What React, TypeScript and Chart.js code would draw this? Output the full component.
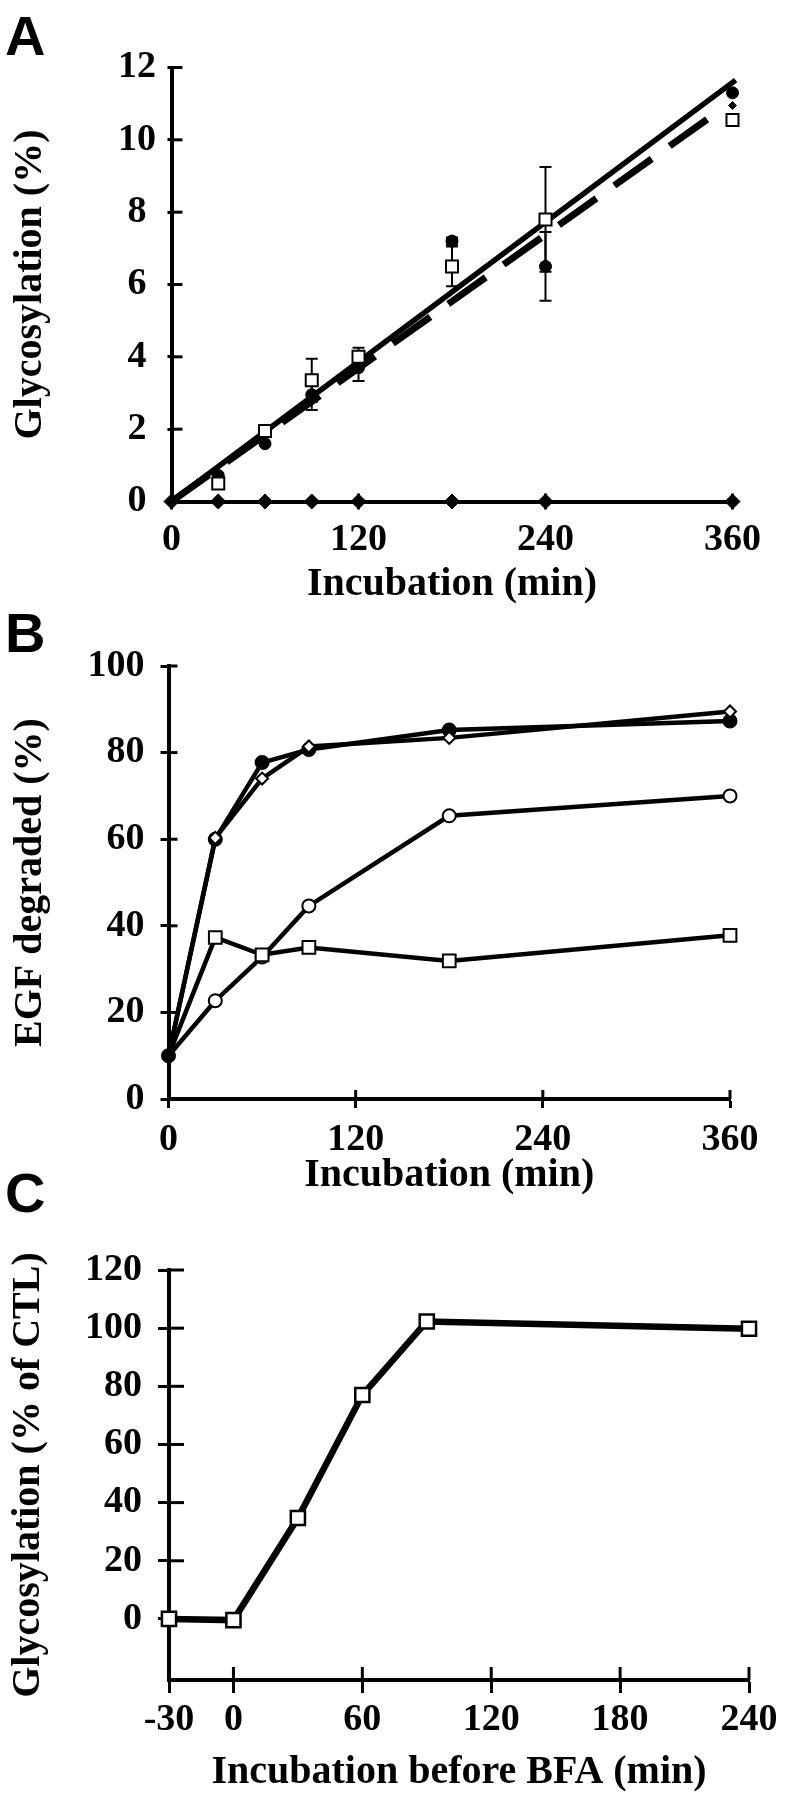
import React, { useEffect, useRef } from 'react';
import { Chart, registerables } from 'chart.js';

Chart.register(...registerables);

const SERIF = '"Liberation Serif", "Times New Roman", Times, serif';
const SANS = '"Liberation Sans", Arial, Helvetica, sans-serif';

// ---------- Panel A ----------
const timeA = [0, 30, 60, 90, 120, 180, 240, 360];
const zeroA = [0, 0, 0, 0, 0, 0, 0, 0];
const timeA2 = [30, 60, 90, 120, 180, 240, 360];
const squaresA = [0.5, 1.95, 3.35, 4.0, 6.5, 7.8, 10.55];
const squaresErrA = [0, 0, 0.6, 0.25, 0.55, 1.45, 0];
const dotsA = [0.72, 1.6, 2.95, 3.7, 7.2, 6.5, 11.3];
const dotsErrA = [0, 0, 0.42, 0.37, 0.1, 0.95, 0];
const smallA = [0.65, 1.7, 3.0, 3.85, 6.6, 6.45, 10.95];
const fitSolidX = [0, 362];
const fitSolidY = [0, 11.65];
const fitDashX = [0, 348];
const fitDashY = [0, 10.7];
const ticksAX = [0, 120, 240, 360];
const ticksAY = [0, 2, 4, 6, 8, 10, 12];

// ---------- Panel B ----------
const timeB = [0, 30, 60, 90, 180, 360];
const filledCircleB = [10, 60, 77.7, 80.7, 85.2, 87.3];
const openDiamondB = [10, 60.3, 74, 81.4, 83.4, 89.5];
const openCircleB = [10, 22.7, 32.8, 44.6, 65.4, 70];
const openSquareB = [10, 37.3, 33.3, 35, 31.9, 37.8];
const ticksBX = [0, 120, 240, 360];
const ticksBY = [0, 20, 40, 60, 80, 100];

// ---------- Panel C ----------
const timeC = [-30, 0, 30, 60, 90, 240];
const glycC = [0, -0.4, 34.7, 77, 102.3, 99.8];
const ticksCX = [-30, 0, 60, 120, 180, 240];
const ticksCY = [0, 20, 40, 60, 80, 100, 120];

const pts = (xs: number[], ys: number[]) => xs.map((x, i) => ({ x, y: ys[i] }));

const decorPlugin = {
  id: 'panelDecor',
  beforeDatasetsDraw(chart: any, _a: any, opts: any) {
    const ctx = chart.ctx;
    const area = chart.chartArea;
    const xs = chart.scales.x;
    const ys = chart.scales.y;
    ctx.save();
    ctx.strokeStyle = '#000';
    ctx.lineWidth = 3;
    ctx.lineCap = 'butt';
    ys.ticks.forEach((t: any) => {
      const py = ys.getPixelForValue(t.value);
      ctx.beginPath();
      ctx.moveTo(area.left, py);
      ctx.lineTo(area.left + opts.innerY, py);
      ctx.stroke();
    });
    xs.ticks.forEach((t: any) => {
      const px = xs.getPixelForValue(t.value);
      ctx.beginPath();
      ctx.moveTo(px, area.bottom);
      ctx.lineTo(px, area.bottom - opts.innerX);
      ctx.stroke();
    });
    ctx.restore();
  },
  afterDraw(chart: any, _a: any, opts: any) {
    const ctx = chart.ctx;
    ctx.save();
    ctx.fillStyle = '#000';
    ctx.font = `bold 56px ${SANS}`;
    ctx.textAlign = 'left';
    ctx.textBaseline = 'alphabetic';
    ctx.fillText(opts.letter, 5, opts.letterY);
    ctx.restore();
  },
};

const errorBarPlugin = {
  id: 'errorBars',
  beforeDatasetsDraw(chart: any) {
    const ctx = chart.ctx;
    const xs = chart.scales.x;
    const ys = chart.scales.y;
    ctx.save();
    ctx.strokeStyle = '#000';
    ctx.lineWidth = 2;
    chart.data.datasets.forEach((ds: any) => {
      if (!ds.errors) return;
      ds.data.forEach((p: any, i: number) => {
        const e = ds.errors[i];
        if (!e) return;
        const px = xs.getPixelForValue(p.x);
        const top = ys.getPixelForValue(p.y + e);
        const bot = ys.getPixelForValue(p.y - e);
        ctx.beginPath();
        ctx.moveTo(px, top);
        ctx.lineTo(px, bot);
        ctx.moveTo(px - 6, top);
        ctx.lineTo(px + 6, top);
        ctx.moveTo(px - 6, bot);
        ctx.lineTo(px + 6, bot);
        ctx.stroke();
      });
    });
    ctx.restore();
  },
};

type AxisSpec = {
  horizontal: boolean;
  min: number;
  max: number;
  tickVals: number[];
  size: number;
  tickLength: number;
  padding: number;
  crossAlign?: string;
  title: string;
  titlePad: number;
};

function axis(a: AxisSpec) {
  return {
    type: 'linear',
    min: a.min,
    max: a.max,
    afterBuildTicks: (s: any) => {
      s.ticks = a.tickVals.map((v) => ({ value: v }));
    },
    afterFit: (s: any) => {
      if (a.horizontal) s.height = a.size;
      else s.width = a.size;
    },
    grid: {
      display: true,
      drawOnChartArea: false,
      drawTicks: true,
      tickLength: a.tickLength,
      tickWidth: 3,
      tickColor: '#000',
      color: '#000',
    },
    border: { display: true, color: '#000', width: 4 },
    ticks: {
      color: '#000',
      font: { family: SERIF, size: 38, weight: 'bold' },
      padding: a.padding,
      autoSkip: false,
      maxRotation: 0,
      minRotation: 0,
      crossAlign: a.crossAlign || 'near',
      callback: (v: any) => String(v),
    },
    title: {
      display: true,
      text: a.title,
      color: '#000',
      font: { family: SERIF, size: 40, weight: 'bold' },
      padding: a.horizontal ? { top: 0, bottom: a.titlePad } : { top: a.titlePad, bottom: 0 },
    },
  };
}

function baseOptions(padding: any, x: any, y: any, decor: any) {
  return {
    responsive: false,
    animation: false,
    devicePixelRatio: 1,
    layout: { padding },
    plugins: {
      legend: { display: false },
      tooltip: { enabled: false },
      panelDecor: decor,
    },
    elements: { line: { tension: 0 } },
    scales: { x, y },
  };
}

function configA() {
  return {
    type: 'line',
    data: {
      datasets: [
        {
          data: pts(timeA2, squaresA),
          errors: squaresErrA,
          showLine: false,
          pointStyle: 'rect',
          pointRadius: 8.5,
          pointBorderWidth: 2,
          pointBorderColor: '#000',
          pointBackgroundColor: '#fff',
          clip: false,
        },
        {
          data: pts(timeA2, smallA),
          showLine: false,
          pointStyle: 'rectRot',
          pointRadius: 4,
          pointBorderWidth: 1,
          pointBorderColor: '#000',
          pointBackgroundColor: '#000',
          clip: false,
        },
        {
          data: pts(timeA2, dotsA),
          errors: dotsErrA,
          showLine: false,
          pointStyle: 'circle',
          pointRadius: 6,
          pointBorderWidth: 1,
          pointBorderColor: '#000',
          pointBackgroundColor: '#000',
          clip: false,
        },
        {
          data: pts(timeA, zeroA),
          showLine: true,
          borderColor: '#000',
          borderWidth: 3,
          pointStyle: 'rectRot',
          pointRadius: 7.5,
          pointBorderWidth: 1,
          pointBorderColor: '#000',
          pointBackgroundColor: '#000',
          clip: false,
        },
        {
          data: pts(fitSolidX, fitSolidY),
          showLine: true,
          borderColor: '#000',
          borderWidth: 5.5,
          pointRadius: 0,
          clip: false,
        },
        {
          data: pts(fitDashX, fitDashY),
          showLine: true,
          borderColor: '#000',
          borderWidth: 7,
          borderDash: [46, 22],
          borderCapStyle: 'butt',
          pointRadius: 0,
          clip: false,
        },
      ],
    },
    options: baseOptions(
      { top: 67.5, right: 52.5, left: 0, bottom: 0 },
      axis({ horizontal: true, min: 0, max: 360, tickVals: ticksAX, size: 118.5, tickLength: 8, padding: 8, title: 'Incubation (min)', titlePad: 11 }),
      axis({ horizontal: false, min: 0, max: 12, tickVals: ticksAY, size: 171.5, tickLength: 4, padding: 11.5, crossAlign: 'center', title: 'Glycosylation (%)', titlePad: 7 }),
      { letter: 'A', letterY: 55, innerX: 8, innerY: 11 }
    ),
    plugins: [errorBarPlugin, decorPlugin],
  };
}

// open markers are hidden at t = 0, where the filled circle shows
function lineDs(ys: number[], style: string, radius: number, fill: string, showFirst: boolean) {
  return {
    data: pts(timeB, ys),
    showLine: true,
    borderColor: '#000',
    borderWidth: 4.5,
    pointStyle: style,
    pointRadius: timeB.map((_, i) => (i === 0 && !showFirst ? 0 : radius)),
    pointBorderWidth: 2,
    pointBorderColor: '#000',
    pointBackgroundColor: fill,
    clip: false,
  };
}

function configB() {
  return {
    type: 'line',
    data: {
      datasets: [
        lineDs(openSquareB, 'rect', 9, '#fff', false),
        lineDs(openCircleB, 'circle', 6.5, '#fff', false),
        lineDs(openDiamondB, 'rectRot', 6, '#fff', false),
        lineDs(filledCircleB, 'circle', 6.5, '#000', true),
      ],
    },
    options: baseOptions(
      { top: 66, right: 55, left: 0, bottom: 0 },
      axis({ horizontal: true, min: 0, max: 360, tickVals: ticksBX, size: 116, tickLength: 9, padding: 9, title: 'Incubation (min)', titlePad: 15 }),
      axis({ horizontal: false, min: 0, max: 100, tickVals: ticksBY, size: 168.5, tickLength: 8, padding: 16, title: 'EGF degraded (%)', titlePad: 7 }),
      { letter: 'B', letterY: 52, innerX: 9, innerY: 9 }
    ),
    plugins: [decorPlugin],
  };
}

function configC() {
  return {
    type: 'line',
    data: {
      datasets: [
        {
          data: pts(timeC, glycC),
          showLine: true,
          borderColor: '#000',
          borderWidth: 6.5,
          pointStyle: 'rect',
          pointRadius: 10,
          pointBorderWidth: 2.5,
          pointBorderColor: '#000',
          pointBackgroundColor: '#fff',
          clip: false,
        },
      ],
    },
    options: baseOptions(
      { top: 110, right: 36, left: 0, bottom: 0 },
      axis({ horizontal: true, min: -30, max: 240, tickVals: ticksCX, size: 120, tickLength: 13, padding: 4, title: 'Incubation before BFA (min)', titlePad: 3 }),
      axis({ horizontal: false, min: -21, max: 120, tickVals: ticksCY, size: 169, tickLength: 11, padding: 16, title: 'Glycosylation (% of CTL)', titlePad: 5 }),
      { letter: 'C', letterY: 52, innerX: 13, innerY: 15 }
    ),
    plugins: [decorPlugin],
  };
}

function Panel({ top, height, make }: { top: number; height: number; make: () => any }) {
  const ref = useRef<HTMLCanvasElement | null>(null);
  useEffect(() => {
    if (!ref.current) return;
    const chart = new Chart(ref.current, make());
    return () => chart.destroy();
  }, []);
  return (
    <canvas
      ref={ref}
      width={785}
      height={height}
      style={{ position: 'absolute', left: 0, top, width: 785, height, display: 'block' }}
    />
  );
}

export default function App() {
  return (
    <div style={{ position: 'absolute', left: 0, top: 0, width: 785, height: 1800, background: '#fff', overflow: 'hidden' }}>
      <Panel top={0} height={620} make={configA} />
      <Panel top={600} height={615} make={configB} />
      <Panel top={1160} height={640} make={configC} />
    </div>
  );
}
